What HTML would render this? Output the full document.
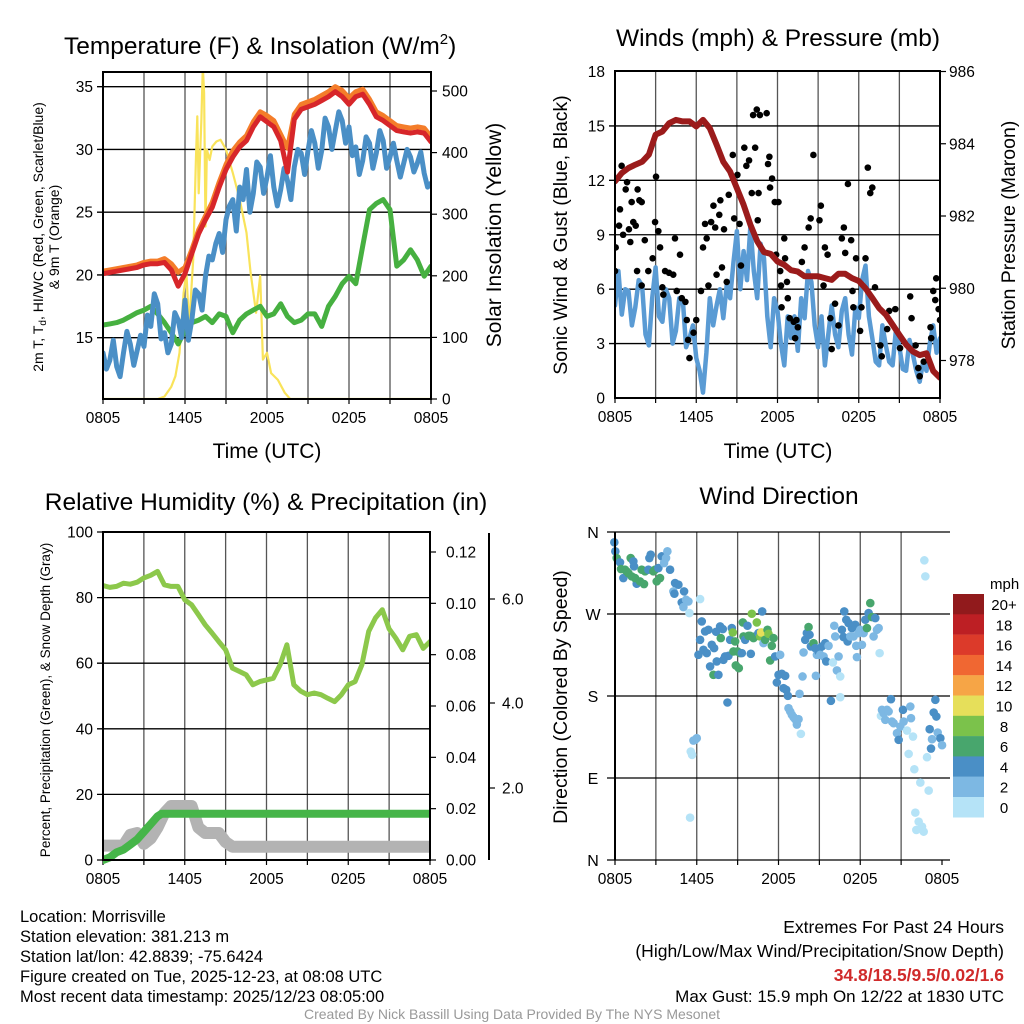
<!DOCTYPE html>
<html><head><meta charset="utf-8"><style>
html,body{margin:0;padding:0;background:#fff;width:1024px;height:1024px;overflow:hidden}
svg text{font-family:"Liberation Sans",sans-serif;fill:#000}
</style></head><body>
<svg id="s" width="1024" height="1024" viewBox="0 0 1024 1024" xmlns="http://www.w3.org/2000/svg">
<g id="g"></g>
</svg>
<script>
// ---------- DATA ----------
const hrsHalf = [];
for (let i = 0; i <= 48; i++) hrsHalf.push(i / 2);
const xTickLabels = ["0805","1405","2005","0205","0805"];
const xTickHours = [0,6,12,18,24];
// Temperature panel
const tempTicks = [15,20,25,30,35];
const solarTicks = [0,100,200,300,400,500];
const temp2m = [20.1,20.2,20.3,20.4,20.5,20.6,20.8,20.9,20.9,21.0,20.4,19.1,20.1,21.7,23.3,24.4,25.4,27.0,28.4,29.4,30.2,30.7,31.8,32.6,32.2,31.8,30.7,28.2,32.4,33.2,33.4,33.6,33.9,34.2,34.6,34.2,33.6,34.2,34.4,33.6,32.6,32.3,31.9,31.5,31.4,31.3,31.4,31.3,30.6];
const temp9m = [20.3,20.4,20.5,20.6,20.7,20.8,21.0,21.1,21.1,21.3,20.9,20.2,20.6,22.0,23.6,24.7,25.8,27.4,28.8,29.9,30.6,31.1,32.2,33.0,32.7,32.3,31.2,30.1,32.8,33.6,33.8,34.0,34.3,34.6,35.0,34.7,34.1,34.6,34.8,34.0,33.0,32.7,32.3,31.9,31.8,31.7,31.8,31.7,31.0];
const dewpoint = [13.8,12.5,13.2,14.8,12.7,11.9,13.8,15.5,14.5,12.8,14.0,15.2,14.3,16.8,15.9,18.5,17.7,14.9,15.4,13.8,14.5,17.0,16.4,15.0,18.0,14.8,16.4,18.8,18.5,17.2,19.9,21.5,21.2,22.5,23.3,21.8,24.4,25.5,26.0,23.5,27.0,26.0,28.4,25.0,26.5,29.0,28.6,26.5,27.8,29.5,27.0,25.5,26.8,28.5,27.5,26.0,28.6,30.0,29.7,28.0,29.9,31.5,30.5,28.5,29.9,32.5,31.8,30.0,31.5,33.0,32.3,30.5,31.8,29.5,30.2,28.0,29.1,31.0,30.5,28.5,29.7,31.5,30.7,28.5,29.4,30.5,29.1,27.8,28.9,30.0,29.4,28.2,28.9,29.8,28.1,27.0,27.3];
const heatIndex = [16.0,16.1,16.2,16.4,16.7,17.0,17.2,17.5,16.9,16.2,15.4,14.5,15.6,16.2,16.4,16.7,16.2,16.9,16.7,15.4,16.4,16.9,17.2,17.5,16.7,16.9,17.7,16.7,16.2,16.4,16.9,16.9,15.9,17.5,18.3,19.3,19.9,19.3,22.3,25.2,25.7,26.0,25.2,20.7,21.2,22.0,21.2,19.9,20.7];
const solarHours = [0,4,4.5,5,5.3,5.6,5.9,6.1,6.3,6.6,6.8,6.9,7.0,7.2,7.3,7.4,7.5,7.6,7.8,8.0,8.3,8.6,9,9.5,10,10.5,10.8,11.2,11.5,11.7,12,12.3,12.8,13.3,13.7,24];
const solarVals = [0,0,4,20,37,75,172,205,118,226,388,459,334,454,540,497,280,405,388,410,418,421,405,367,324,270,205,140,200,64,75,42,31,10,0,0];
// Wind panel
const windTicks = [0,3,6,9,12,15,18];
const presTicks = [978,980,982,984,986];
const pressure = [982.96,983.19,983.33,983.42,983.5,983.7,984.25,984.34,984.57,984.66,984.62,984.62,984.48,984.66,984.43,983.97,983.5,983.23,982.77,982.31,981.76,981.3,981.0,980.95,980.74,980.65,980.5,980.46,980.33,980.33,980.33,980.28,980.23,980.4,980.4,980.28,980.2,980.0,979.73,979.45,979.27,978.99,978.71,978.44,978.25,978.15,978.2,977.71,977.52];
const windSpeed = [5.1,7.0,4.6,6.0,5.9,4.0,5.0,6.5,6.2,3.5,2.9,5.5,7.2,4.5,4.2,6.0,5.5,3.0,3.7,5.5,5.5,2.8,3.3,4.0,2.2,1.5,0.3,2.5,5.5,4.0,5.1,6.0,4.4,6.2,5.5,7.5,9.2,6.0,8.1,6.5,9.5,7.0,5.5,8.5,7.7,4.5,2.8,5.5,4.8,3.0,1.8,4.5,3.3,4.5,2.6,5.5,4.4,7.0,6.4,4.0,2.8,4.5,1.8,3.5,5.1,3.5,2.8,4.8,5.5,3.5,2.4,5.0,4.4,6.5,7.3,4.5,3.3,2.0,1.8,4.0,2.9,2.0,1.8,3.8,2.8,1.6,1.5,3.2,2.4,1.5,0.9,2.0,1.5,3.0,4.0,2.5,3.3];
const gustHours = [0,0.05,0.3,0.37,0.49,0.79,0.89,0.6,1.03,1.13,1.23,1.35,1.53,1.67,1.8,1.97,2.2,1.63,1.97,2.46,2.78,2.96,3.03,3.2,3.33,3.5,3.57,3.7,3.99,4.3,4.43,4.56,4.8,4.93,5.2,5.3,5.4,5.8,6.0,5.5,6.35,6.5,6.65,6.77,6.9,7.1,7.27,7.4,7.5,7.7,7.78,7.9,8.05,8.25,8.4,8.7,8.8,9.04,9.2,9.3,9.55,9.7,9.9,10.1,10.2,10.35,10.47,10.6,10.54,10.7,11.2,11.3,11.4,11.6,11.45,11.8,12.07,11.9,12.2,12.26,12.5,12.56,12.7,12.76,12.3,12.9,13.2,13.4,13.5,13.3,13.8,14.0,14.3,14.45,14.65,15.2,15.1,15.4,15.5,15.7,15.9,16.0,16.25,16.5,16.75,16.9,17.0,17.2,17.44,17.54,17.6,17.8,18.2,18.5,18.67,18.85,19.0,18.1,19.2,19.6,19.7,20.1,20.25,20.7,21.05,21.8,21.9,22.2,22.4,22.5,22.8,23.3,23.35,23.5,23.65,23.72,23.9,24];
const gustVals = [7.0,8.3,9.5,10.4,12.8,11.5,11.9,9.0,9.3,8.6,10.8,9.7,9.5,11.5,10.9,10.8,8.7,7.0,6.2,7.0,7.7,9.7,12.2,9.2,8.3,6.1,5.7,7.0,6.9,6.8,8.8,5.9,7.9,5.5,5.3,4.3,3.2,3.6,4.3,2.2,5.9,8.3,9.6,8.8,6.2,9.7,10.6,9.4,6.8,10.1,10.9,7.2,9.3,6.4,11.2,13.4,9.9,12.3,9.6,7.3,13.8,12.8,13.1,11.3,15.6,13.8,15.9,11.3,9.8,15.6,15.7,12.9,13.3,12.1,11.6,10.8,10.8,7.9,7.0,6.2,8.8,7.7,6.4,5.5,5.0,4.4,4.2,4.3,3.9,3.3,7.5,8.3,9.4,9.9,13.4,10.6,9.8,6.2,8.3,7.9,4.4,2.7,5.2,4.0,8.8,9.4,8.0,11.8,8.7,5.9,5.0,7.7,5.0,7.7,12.7,11.3,11.6,3.7,6.1,2.9,2.3,3.8,4.8,4.9,2.75,5.6,4.4,2.9,1.65,1.2,2.0,3.9,3.3,5.9,5.4,6.6,4.9,4.3];
// RH panel
const rhTicks = [0,20,40,60,80,100];
const precipTicks = [0.00,0.02,0.04,0.06,0.08,0.10,0.12];
const snowTickVals = [2.0,4.0,6.0];
const rh = [83.7,83.1,83.4,84.4,84.1,84.7,86.0,86.8,88.0,83.9,83.4,83.4,79.3,77.8,74.8,71.7,69.2,66.6,64.1,58.5,57.5,56.5,53.4,54.4,54.9,55.4,59.5,65.6,53.4,51.5,50.4,50.9,50.4,49.3,48.3,50.4,53.4,54.4,59.5,69.7,73.8,76.3,70.5,67.6,64.1,68.2,68.7,64.5,66.6];
const precipHours = [0,0.5,1,1.5,2,2.5,3,3.5,4,4.3,24];
const precipVals = [0,0.001,0.003,0.004,0.006,0.008,0.011,0.014,0.017,0.018,0.018];
const snowHours = [0,1.5,2,2.5,3,3.5,4,4.5,5,6.5,7,7.5,8.5,9,9.5,24];
const snowVals = [0.4,0.4,0.7,0.75,0.45,0.6,0.9,1.3,1.5,1.5,0.9,0.75,0.75,0.5,0.37,0.37];
// Wind direction panel
const dirLabels = ["N","E","S","W","N"];
const dirTickVals = [0,90,180,270,360];
const speedBins = ["0","2","4","6","8","10","12","14","16","18","20+"];
const binColors = ["#b5e3f7","#7db8e3","#4a8fc6","#48a66d","#7bc24b","#e6df5a","#f6a546","#f06732","#dc3a2a","#bd1f24","#911a1c"];
const dirPts = [[163,68,2],[166,95,2],[170,115,3],[180,128,2],[183,148,3],[190,175,2],[195,150,3],[200,155,3],[205,160,3],[212,115,3],[220,125,2],[222,140,2],[215,170,3],[230,192,2],[225,175,3],[240,185,3],[245,150,3],[252,193,3],[255,155,3],[265,150,2],[268,115,2],[272,105,2],[280,155,3],[285,150,3],[290,185,3],[300,175,3],[295,145,2],[305,110,2],[312,130,1],[318,115,1],[322,95,1],[330,150,2],[340,215,1],[345,190,2],[355,195,2],[343,222,2],[365,248,2],[372,215,2],[378,240,1],[385,245,1],[370,262,1],[388,280,0],[420,238,0],[425,305,2],[415,405,2],[420,360,2],[430,390,2],[435,335,2],[440,400,2],[445,330,2],[450,440,2],[455,375,2],[460,465,3],[462,385,2],[468,336,2],[470,425,2],[475,465,2],[480,320,2],[482,355,3],[488,328,2],[490,420,2],[495,410,2],[502,548,2],[505,408,2],[510,360,2],[515,325,2],[518,338,4],[520,395,3],[525,365,3],[527,437,3],[532,395,3],[536,445,3],[540,400,3],[545,400,2],[548,308,3],[550,350,3],[555,360,2],[562,318,2],[565,348,3],[570,348,3],[572,402,2],[575,282,4],[580,355,3],[585,350,3],[590,308,4],[595,340,2],[600,350,4],[603,338,5],[606,275,2],[610,370,1],[615,360,3],[622,330,3],[625,342,4],[630,422,3],[635,378,3],[640,355,3],[645,410,2],[650,488,2],[655,465,2],[660,405,1],[665,462,2],[670,505,2],[675,468,2],[678,510,2],[683,528,2],[685,565,1],[690,575,1],[695,585,1],[700,592,1],[705,598,1],[710,614,1],[715,598,1],[722,642,0],[718,522,1],[727,470,1],[730,398,1],[735,360,2],[740,340,2],[745,322,3],[748,345,2],[752,380,2],[760,370,3],[765,385,2],[767,468,1],[770,405,1],[775,395,2],[780,405,1],[785,380,2],[790,410,1],[795,370,2],[798,425,2],[805,378,1],[812,543,2],[818,428,0],[822,318,1],[825,350,1],[830,452,1],[835,410,1],[840,470,0],[840,532,0],[845,330,2],[850,352,2],[852,275,2],[858,300,2],[862,365,2],[865,310,2],[870,350,1],[875,325,2],[880,350,1],[885,315,2],[888,378,1],[890,412,1],[895,340,1],[900,330,1],[905,375,1],[910,340,1],[915,300,2],[920,325,3],[925,280,2],[930,250,3],[935,292,3],[940,350,1],[945,295,2],[950,330,1],[955,325,1],[958,400,0],[962,588,0],[965,570,1],[970,580,1],[975,600,1],[980,570,1],[985,575,1],[992,538,2],[995,605,1],[1000,610,1],[1010,640,1],[1015,660,2],[1020,620,1],[1028,570,2],[1030,605,1],[1040,632,0],[1045,702,0],[1050,560,1],[1052,595,1],[1058,650,0],[1062,748,0],[1065,878,0],[1068,930,0],[1075,905,0],[1080,788,0],[1085,920,0],[1090,935,0],[1092,122,0],[1095,170,0],[1100,712,0],[1105,812,0],[1108,628,2],[1115,658,1],[1112,686,2],[1120,578,2],[1125,540,2],[1128,590,2],[1132,638,1],[1140,655,2],[1145,676,1],[392,695,0],[396,705,0],[400,662,1],[405,660,1],[410,655,1],[390,893,0]].map(p=>[(p[0]-165)/40.83,(1020-p[1])/983*360,p[2]*2+1]);

// ---------- DRAW ----------
const NS="http://www.w3.org/2000/svg";
const root=document.getElementById('g');
function el(tag,attrs,parent){const e=document.createElementNS(NS,tag);for(const k in attrs)e.setAttribute(k,attrs[k]);(parent||root).appendChild(e);return e;}
function txt(s,attrs,parent){const e=el('text',attrs,parent);e.textContent=s;return e;}
function lin(d0,d1,r0,r1){return v=>r0+(v-d0)*(r1-r0)/(d1-d0);}
function pathOf(xs,ys,fx,fy){return xs.map((x,i)=>(i?'L':'M')+fx(x).toFixed(1)+','+fy(ys[i]).toFixed(1)).join('');}
function hoursFor(arr){return arr.map((_,i)=>i*24/(arr.length-1));}

function frame(name,L,R,T,B,fx){
  const g=el('g',{});
  
  
  for(let h=3;h<24;h+=3){const l=el('line',{x1:fx(h),x2:fx(h),y1:T,y2:B,stroke:'#555','stroke-width':1.3},g);
    
    }
  for(let h=0;h<=24;h+=3){const t=el('line',{x1:fx(h),x2:fx(h),y1:B,y2:B+5,stroke:'#000','stroke-width':1.2},g);
    
    }
  xTickHours.forEach((h,i)=>{const t=txt(xTickLabels[i],{x:fx(h),y:B+24,'font-size':15.5,'text-anchor':'middle'},g);
    
    });
  return g;
}
function hgrid(g,vals,fy,L,R,labelX,anchor,fmt){
  vals.forEach(v=>{const y=fy(v);
    const l=el('line',{x1:L-6,x2:R,y1:y,y2:y,stroke:'#000','stroke-width':1.3},g);
    
    
    const t=txt(fmt?fmt(v):String(v),{x:labelX,y:y+5.5,'font-size':15.5,'text-anchor':anchor},g);
    
    });
}
function border(g,L,R,T,B){const r=el('rect',{x:L,y:T,width:R-L,height:B-T,fill:'none',stroke:'#000','stroke-width':2},g);
  
  }
function rightTicks(g,vals,fy,X,lx,fmt,len){vals.forEach(v=>{const y=fy(v);
  const l=el('line',{x1:X,x2:X+(len||6),y1:y,y2:y,stroke:'#000','stroke-width':1.2},g);
  
  
  const t=txt(fmt?fmt(v):String(v),{x:lx,y:y+5.5,'font-size':15.5},g);
  
  });}
function series(g,name,xs,ys,fx,fy,color,w){const p=el('path',{d:pathOf(xs,ys,fx,fy),fill:'none',stroke:color,'stroke-width':w,'stroke-linejoin':'round','stroke-linecap':'round'},g);
  
  return p;}

// Panel 1: Temperature
{const L=103,R=431,T=72,B=399;
 const fx=lin(0,24,L,R), fy=lin(15,35,337.7,86.7), fs=lin(0,500,399,91);
 const g=frame('temperature-panel',L,R,T,B,fx);
 hgrid(g,tempTicks,fy,L,R,L-10,'end');
 const cp=el('clipPath',{id:'c1'},g);el('rect',{x:L,y:T,width:R-L,height:B-T},cp);
 const d=el('g',{'clip-path':'url(#c1)'},g);
 series(d,'solar-insolation-line',solarHours,solarVals,fx,fs,'#f9e35a',2.2);
 series(d,'heat-index-line',hrsHalf,heatIndex,fx,fy,'#46b040',5);
 series(d,'dewpoint-line',hoursFor(dewpoint),dewpoint,fx,fy,'#4a8fc6',5);
 series(d,'temp-9m-line',hrsHalf,temp9m,fx,fy,'#f47d2a',5);
 series(d,'temp-2m-line',hrsHalf,temp2m,fx,fy,'#d7262a',5);
 border(g,L,R,T,B);
 rightTicks(g,solarTicks,fs,R,442);
 const t=txt('Temperature (F) & Insolation (W/m',{x:64,y:54,'font-size':24.5},g);
 
 
 const ts=el('tspan',{dy:-10,'font-size':15},t);ts.textContent='2';
 const ts2=el('tspan',{dy:10},t);ts2.textContent=')';
 const xl=txt('Time (UTC)',{x:267,y:458,'font-size':21,'text-anchor':'middle'},g);
 
 
 const yl=txt('',{transform:'translate(43,237) rotate(-90)','font-size':14,'text-anchor':'middle'},g);
 
 
 yl.innerHTML='2m T, T<tspan dy="3" font-size="10">d</tspan><tspan dy="-3">, HI/WC (Red, Green, Scarlet/Blue)</tspan>';
 const yl2=txt('& 9m T (Orange)',{transform:'translate(59,237) rotate(-90)','font-size':14,'text-anchor':'middle'},g);
 
 
 const yr=txt('Solar Insolation (Yellow)',{transform:'translate(501,235) rotate(-90)','font-size':21,'text-anchor':'middle'},g);
 
 }

// Panel 2: Winds
{const L=615,R=940,T=71,B=398;
 const fx=lin(0,24,L,R), fy=lin(0,18,B,T+0.5), fp=lin(978,986,360.5,71.5);
 const g=frame('winds-panel',L,R,T,B,fx);
 hgrid(g,windTicks.slice(1,-1),fy,L,R,L-10,'end');
 [0,18].forEach(v=>{const t=txt(String(v),{x:L-10,y:fy(v)+5.5,'font-size':15.5,'text-anchor':'end'},g);
  
  });
 const cp=el('clipPath',{id:'c2'},g);el('rect',{x:L,y:T,width:R-L,height:B-T},cp);
 const d=el('g',{'clip-path':'url(#c2)'},g);
 series(d,'wind-speed-line',hoursFor(windSpeed),windSpeed,fx,fy,'#5a9bd4',4.5);
 gustHours.forEach((h,i)=>{const c=el('circle',{cx:fx(h),cy:fy(gustVals[i]),r:3.3,fill:'#000'},d);
  
  });
 series(d,'pressure-line',hrsHalf,pressure,fx,fp,'#9b1b1b',6);
 border(g,L,R,T,B);
 rightTicks(g,presTicks,fp,R,949);
 const t=txt('Winds (mph) & Pressure (mb)',{x:778,y:46,'font-size':24.5,'text-anchor':'middle'},g);
 
 
 const xl=txt('Time (UTC)',{x:778,y:458,'font-size':21,'text-anchor':'middle'},g);
 
 
 const yl=txt('Sonic Wind & Gust (Blue, Black)',{transform:'translate(567,235) rotate(-90)','font-size':19.5,'text-anchor':'middle'},g);
 
 
 const yr=txt('Station Pressure (Maroon)',{transform:'translate(1015,235) rotate(-90)','font-size':19.5,'text-anchor':'middle'},g);
 
 }

// Panel 3: RH
{const L=103,R=430,T=532,B=860;
 const fx=lin(0,24,L,R), fy=lin(0,100,B,T), fpr=lin(0,0.12,860,552);
 const snowD=[0,2,4,6,7],snowR=[860,788,703,599,540];
 const fsn=v=>{for(let i=1;i<snowD.length;i++){if(v<=snowD[i]||i==snowD.length-1)return lin(snowD[i-1],snowD[i],snowR[i-1],snowR[i])(v);}};
 const g=frame('humidity-panel',L,R,T,B,fx);
 hgrid(g,rhTicks,fy,L,R,L-10,'end');
 const cp=el('clipPath',{id:'c3'},g);el('rect',{x:L,y:T,width:R-L,height:B-T+6},cp);
 const d=el('g',{'clip-path':'url(#c3)'},g);
 series(d,'snow-depth-line',snowHours,snowVals,fx,fsn,'#b3b3b3',12);
 series(d,'precipitation-line',precipHours,precipVals,fx,fpr,'#46b549',8);
 series(d,'relative-humidity-line',hrsHalf,rh,fx,fy,'#8cc84b',5);
 border(g,L,R,T,B);
 rightTicks(g,precipTicks,fpr,R,446,v=>v.toFixed(2));
 const ax=el('line',{x1:489,x2:489,y1:533,y2:860,stroke:'#000','stroke-width':2},g);
 
 
 rightTicks(g,snowTickVals,fsn,489,502,v=>v.toFixed(1));
 const t=txt('Relative Humidity (%) & Precipitation (in)',{x:266,y:510,'font-size':24.5,'text-anchor':'middle'},g);
 
 
 const yl=txt('Percent, Precipitation (Green), & Snow Depth (Gray)',{transform:'translate(50,700) rotate(-90)','font-size':13.5,'text-anchor':'middle'},g);
 
 }

// Panel 4: Wind direction
{const L=615,R=942,T=532,B=860;
 const fx=lin(0,24,L,R), fy=lin(0,360,B,T);
 const g=frame('wind-direction-panel',L,R,T,B,fx);
 dirTickVals.forEach((v,i)=>{const y=fy(v);
  const l=el('line',{x1:L-8,x2:R+8,y1:y,y2:y,stroke:'#000','stroke-width':1.3},g);
  
  
  const t=txt(dirLabels[i],{x:L-22,y:y+6,'font-size':16,'text-anchor':'middle'},g);
  
  });
 dirPts.forEach(p=>{const c=el('circle',{cx:fx(p[0]),cy:fy(p[1]),r:4.3,fill:binColors[Math.min(10,Math.floor(p[2]/2))]},g);
  
  });
 const lb=el('line',{x1:L,x2:L,y1:T,y2:B,stroke:'#000','stroke-width':2},g);
 
 
 const t=txt('Wind Direction',{x:779,y:504,'font-size':24.5,'text-anchor':'middle'},g);
 
 
 const yl=txt('Direction (Colored By Speed)',{transform:'translate(567,697) rotate(-90)','font-size':19.5,'text-anchor':'middle'},g);
 
 
 const cb=el('g',{},g);
 
 
 const mph=txt('mph',{x:990,y:589,'font-size':15},cb);
 
 
 speedBins.slice().reverse().forEach((lab,i)=>{const y=594+i*20.3;
  const r=el('rect',{x:953,y:y,width:31,height:20.5,fill:binColors[10-i]},cb);
  
  
  const tt=txt(lab,{x:1004,y:y+16,'font-size':15,'text-anchor':'middle'},cb);
  
  });}

// Footer
{const g=el('g',{});
 
 
 ["Location: Morrisville","Station elevation: 381.213 m","Station lat/lon: 42.8839; -75.6424","Figure created on Tue, 2025-12-23, at 08:08 UTC","Most recent data timestamp: 2025/12/23 08:05:00"].forEach((s,i)=>{
  const t=txt(s,{x:20,y:922+i*20,'font-size':16.5},g);
  
  });
 const r1=txt('Extremes For Past 24 Hours',{x:1004,y:933,'font-size':17.5,'text-anchor':'end'},g);
 
 
 const r2=txt('(High/Low/Max Wind/Precipitation/Snow Depth)',{x:1004,y:957,'font-size':17.5,'text-anchor':'end'},g);
 
 
 const r3=txt('34.8/18.5/9.5/0.02/1.6',{x:1004,y:981,'font-size':17.5,'text-anchor':'end','font-weight':'bold',style:'fill:#d02a2a'},g);
 
 
 const r4=txt('Max Gust: 15.9 mph On 12/22 at 1830 UTC',{x:1004,y:1002,'font-size':17,'text-anchor':'end'},g);
 
 
 const c=txt('Created By Nick Bassill Using Data Provided By The NYS Mesonet',{x:512,y:1019,'font-size':14,'text-anchor':'middle',style:'fill:#999'},g);
 
 }
</script>
</body></html>
